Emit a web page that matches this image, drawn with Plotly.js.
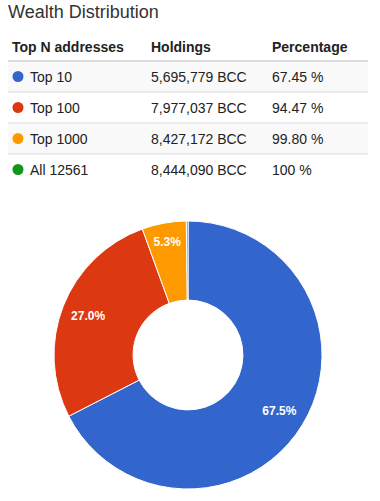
<!DOCTYPE html>
<html>
<head>
<meta charset="utf-8">
<script src="https://cdn.plot.ly/plotly-3.0.1.min.js"></script>
<style>html,body{margin:0;padding:0;background:#fff;} #chart{width:380px;height:501px;}</style>
</head>
<body>
<div id="chart"></div>
<script>
// ---- data ----
var headers = ["Top N addresses", "Holdings", "Percentage"];
var groups = ["Top 10", "Top 100", "Top 1000", "All 12561"];
var holdings = ["5,695,779 BCC", "7,977,037 BCC", "8,427,172 BCC", "8,444,090 BCC"];
var percentages = ["67.45 %", "94.47 %", "99.80 %", "100 %"];
var sliceLabels = ["Top 10", "Top 11-100", "Top 101-1000", "Rest"];
var sliceValues = [5695779, 2281258, 450135, 16918];
var sliceText = ["67.5%", "27.0%", "5.3%", ""];
var colors = ["#3366cc", "#dc3912", "#ff9900", "#109618"];

// ---- layout helpers ----
var W = 380, H = 501;
function py(p) { return (H - p) / H; }
function px(p) { return p / W; }
var FONT = "Liberation Sans, Arial, Helvetica, sans-serif";

var tableTop = 30, headerH = 31, rowH = 31;
var bodyTop = tableTop + headerH, bodyBottom = bodyTop + rowH * groups.length;
var tableLeft = 8, tableRight = 368;
var annPad = 3;                 // annotation inner padding
var colX = [13, 152, 273];      // text start of each column (px)
var groupTextX = 31, dotX = 18;

var annotations = [];
var shapes = [];

// header
headers.forEach(function (h, j) {
  annotations.push({
    xref: "paper", yref: "paper", x: px(colX[j] - annPad), y: py(tableTop + headerH / 2 + 1),
    xanchor: "left", yanchor: "middle", showarrow: false,
    text: "<b>" + h + "</b>",
    font: { family: FONT, size: 14, color: "#222222" }
  });
});
shapes.push({ type: "line", xref: "paper", yref: "paper", x0: px(tableLeft), x1: px(tableRight),
  y0: py(bodyTop), y1: py(bodyTop), line: { color: "#dddddd", width: 2 } });

// body rows on a category axis
groups.forEach(function (g, i) {
  if (i % 2 === 0) {
    shapes.push({ type: "rect", xref: "x", yref: "y", x0: tableLeft, x1: tableRight,
      y0: i - 0.5, y1: i + 0.5, fillcolor: "#f9f9f9", line: { width: 0 }, layer: "below" });
  }
  if (i > 0) {
    shapes.push({ type: "line", xref: "x", yref: "y", x0: tableLeft, x1: tableRight,
      y0: i - 0.5, y1: i - 0.5, line: { color: "#dddddd", width: 1 } });
  }
  var cells = [g, holdings[i], percentages[i]];
  var xs = [groupTextX, colX[1], colX[2]];
  cells.forEach(function (t, j) {
    annotations.push({
      xref: "x", yref: "y", x: xs[j] - annPad, y: g,
      xanchor: "left", yanchor: "middle", showarrow: false,
      text: t,
      font: { family: FONT, size: 14, color: "#222222" }
    });
  });
});

var dots = {
  type: "scatter", mode: "markers",
  x: groups.map(function () { return dotX; }),
  y: groups,
  marker: { color: colors, size: 11, line: { width: 0 } },
  xaxis: "x", yaxis: "y",
  showlegend: false, hoverinfo: "skip", cliponaxis: false
};

var pieDomain = { x: [px(54), px(322)], y: [py(489), py(221)] };

var pie = {
  type: "pie",
  labels: sliceLabels,
  values: sliceValues,
  textinfo: "none",
  sort: false,
  direction: "clockwise",
  rotation: 0,
  hole: 0.41,
  marker: { colors: colors, line: { color: "#ffffff", width: 1 } },
  domain: pieDomain,
  showlegend: false,
  hoverinfo: "label+percent"
};

// transparent twin pie carrying the slice labels further out on the ring
var pieLabels = {
  type: "pie",
  labels: sliceLabels,
  values: sliceValues,
  text: sliceText,
  textinfo: "text",
  textposition: "inside",
  insidetextorientation: "horizontal",
  sort: false,
  direction: "clockwise",
  rotation: 0,
  hole: 0.6,
  marker: { colors: ["rgba(0,0,0,0)", "rgba(0,0,0,0)", "rgba(0,0,0,0)", "rgba(0,0,0,0)"],
    line: { width: 0 } },
  textfont: { family: FONT, size: 12, color: "#ffffff", weight: "bold" },
  domain: pieDomain,
  showlegend: false,
  hoverinfo: "skip"
};

var layout = {
  width: W, height: H,
  margin: { l: 0, r: 0, t: 0, b: 0 },
  paper_bgcolor: "#ffffff",
  plot_bgcolor: "rgba(0,0,0,0)",
  title: {
    text: "Wealth Distribution",
    x: px(8), xanchor: "left", xref: "paper",
    y: py(12), yanchor: "middle", yref: "paper",
    font: { family: FONT, size: 18, color: "#333333" }
  },
  xaxis: { domain: [0, 1], range: [0, W], visible: false, fixedrange: true },
  yaxis: { domain: [py(bodyBottom), py(bodyTop)], type: "category", categoryorder: "array",
    categoryarray: groups, range: [groups.length - 0.5, -0.5], visible: false, fixedrange: true },
  shapes: shapes,
  annotations: annotations,
  showlegend: false
};

Plotly.newPlot("chart", [dots, pie, pieLabels], layout, { displayModeBar: false, staticPlot: true });
</script>
</body>
</html>
